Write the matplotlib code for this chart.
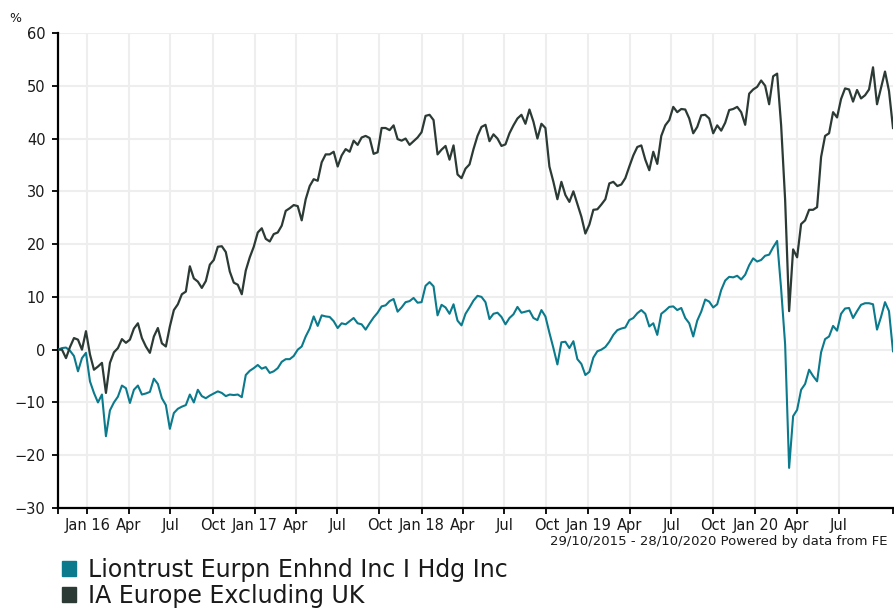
#!/usr/bin/env python3
"""
Performance cumulée du fonds Liontrust face au secteur IA Europe Excluding UK
(29/10/2015 - 28/10/2020), valeurs relevées à la main sur le graphique FE.
"""

import pandas as pd
import matplotlib
matplotlib.use("Agg")
import matplotlib.pyplot as plt
import matplotlib.dates as mdates
from matplotlib.patches import Patch

# Période et échantillonnage (points régulièrement espacés dans le temps)
debut = "2015-10-29"
fin = "2020-10-28"
nb_points = 210

fonds_label = "Liontrust Eurpn Enhnd Inc I Hdg Inc"
secteur_label = "IA Europe Excluding UK"
source_label = "29/10/2015 - 28/10/2020 Powered by data from FE"

# Performance du fonds (%)
fonds_perf = [
    0.0, 0.3, 0.4, -0.2, -1.2, -4.1, -1.6, -0.6, -6.0, -8.2, -10.0, -8.5,
    -16.4, -11.5, -10.0, -8.9, -6.8, -7.3, -10.1, -7.6, -6.8, -8.5, -8.3, -8.0,
    -5.5, -6.5, -9.2, -10.5, -15.0, -12.0, -11.2, -10.8, -10.5, -8.5, -10.0, -7.6,
    -8.8, -9.2, -8.7, -8.3, -7.9, -8.2, -8.8, -8.5, -8.6, -8.5, -9.0, -4.8,
    -4.0, -3.5, -2.9, -3.6, -3.3, -4.4, -4.1, -3.5, -2.3, -1.8, -1.8, -1.2,
    0.0, 0.6, 2.5, 4.0, 6.3, 4.5, 6.5, 6.3, 6.2, 5.4, 4.1,
    5.0, 4.8, 5.4, 6.0, 5.0, 4.8, 3.8, 5.0, 6.1, 7.0, 8.2, 8.4,
    9.2, 9.6, 7.2, 8.0, 9.0, 9.2, 9.8, 8.9, 9.0, 12.1, 12.8, 12.0,
    6.5, 8.5, 8.0, 6.8, 8.6, 5.5, 4.6, 6.8, 8.0, 9.3, 10.2,
    10.0, 9.0, 5.8, 6.8, 7.0, 6.2, 4.8, 6.0, 6.7, 8.1, 7.0, 7.2,
    7.4, 6.0, 5.6, 7.5, 6.3, 3.2, 0.3, -2.8, 1.4, 1.5, 0.3, 1.6,
    -1.8, -2.7, -4.8, -4.2, -1.5, -0.3, 0.0, 0.5, 1.5, 2.8, 3.7,
    4.0, 4.2, 5.6, 6.0, 6.9, 7.5, 6.8, 4.4, 5.0, 2.8, 6.8, 7.4,
    8.1, 8.2, 7.5, 7.9, 6.0, 5.0, 2.5, 5.5, 7.2, 9.5, 9.1, 8.0,
    8.6, 11.3, 13.1, 13.8, 13.7, 14.0, 13.3, 14.2, 16.0, 17.3, 16.7,
    17.0, 17.8, 18.0, 19.4, 20.6, 11.5, 1.0, -22.4, -12.6, -11.4, -7.6, -6.5,
    -3.8, -5.0, -6.0, -0.5, 2.0, 2.5, 4.5, 3.6, 6.8, 7.8, 7.9, 6.0,
    7.3, 8.5, 8.8, 8.8, 8.6, 3.8, 6.2, 9.0, 7.3, -0.3,
]

# Performance du secteur (%)
secteur_perf = [
    0.0, 0.0, -1.6, 0.5, 2.2, 1.9, 0.0, 3.5, -0.9, -3.8, -3.2, -2.5,
    -8.2, -2.5, -0.5, 0.3, 2.0, 1.3, 1.9, 4.0, 5.0, 2.2, 0.6, -0.6,
    2.5, 4.1, 1.2, 0.6, 4.4, 7.5, 8.6, 10.5, 11.0, 15.8, 13.5, 12.9,
    11.7, 13.0, 16.1, 17.0, 19.5, 19.6, 18.5, 14.8, 12.7, 12.3, 10.5, 15.0,
    17.5, 19.5, 22.2, 23.0, 21.0, 20.5, 21.9, 22.2, 23.5, 26.3, 26.8, 27.4,
    27.2, 24.5, 28.5, 31.0, 32.3, 32.0, 35.5, 37.0, 37.0, 37.5, 34.7,
    36.8, 38.0, 37.5, 39.6, 38.8, 40.2, 40.5, 40.1, 37.1, 37.4, 42.0, 42.0,
    41.6, 42.5, 39.9, 39.6, 40.0, 38.8, 39.5, 40.2, 41.2, 44.3, 44.5, 43.5,
    37.0, 37.9, 38.6, 36.0, 38.7, 33.2, 32.5, 34.3, 35.1, 38.0, 40.5,
    42.2, 42.6, 39.5, 40.8, 40.0, 38.6, 38.9, 41.0, 42.5, 43.8, 44.5, 42.8,
    45.5, 43.2, 40.0, 42.8, 42.0, 34.7, 31.8, 28.5, 31.8, 29.3, 28.0, 30.0,
    27.6, 25.2, 22.0, 23.7, 26.5, 26.6, 27.5, 28.5, 31.5, 31.8, 31.0,
    31.3, 32.5, 34.7, 36.8, 38.4, 38.7, 36.0, 34.0, 37.5, 35.2, 40.5, 42.5,
    43.5, 46.0, 45.0, 45.6, 45.5, 43.8, 41.0, 42.2, 44.4, 44.5, 43.8, 41.0,
    42.5, 41.5, 43.0, 45.4, 45.6, 46.0, 45.0, 42.6, 48.5, 49.3, 49.8,
    51.0, 50.0, 46.5, 51.8, 52.3, 42.5, 28.4, 7.3, 19.0, 17.5, 23.8, 24.5,
    26.5, 26.5, 27.0, 36.5, 40.5, 41.0, 45.0, 44.0, 47.5, 49.5, 49.3, 47.0,
    49.2, 47.6, 48.2, 49.3, 53.5, 46.5, 49.6, 52.7, 49.0, 42.0,
]

y_ticks = [-30, -20, -10, 0, 10, 20, 30, 40, 50, 60]
# Graduations trimestrielles (pas d'étiquette pour oct. 2020)
x_ticks = pd.date_range("2016-01-01", "2020-07-01", freq="QS")

couleur_fonds = "#0a7a8c"
couleur_secteur = "#2c3a36"


def label_trimestre(x, pos=None):
    """Jan + année sur deux chiffres, sinon juste le mois."""
    d = mdates.num2date(x)
    if d.month == 1:
        return d.strftime("Jan %y")
    return d.strftime("%b")


def tracer():
    dates = pd.date_range(debut, fin, periods=nb_points)

    fig = plt.figure(figsize=(8.94, 6.08), dpi=100)
    ax = fig.add_axes([58 / 894, 100 / 608, 835 / 894, 475 / 608])

    ax.plot(dates, fonds_perf, color=couleur_fonds, lw=1.5, zorder=3)
    ax.plot(dates, secteur_perf, color=couleur_secteur, lw=1.6, zorder=4)

    t0, t1 = pd.Timestamp(debut), pd.Timestamp(fin)
    ax.set_xlim(t0, t1)
    ax.set_ylim(-30, 60)
    ax.set_yticks(y_ticks)

    # Axes
    for side in ["top", "right"]:
        ax.spines[side].set_visible(False)
    for side in ["left", "bottom"]:
        ax.spines[side].set_color("black")
        ax.spines[side].set_linewidth(1.6)

    ax.set_xticks(mdates.date2num(x_ticks))
    ax.xaxis.set_major_formatter(plt.FuncFormatter(label_trimestre))
    ax.set_xticks(mdates.date2num([t0, t1]), minor=True)
    ax.tick_params(axis="both", which="both", colors="black", labelcolor="#1a1a1a",
                   width=1.3, length=4, labelsize=10.5)
    ax.tick_params(axis="x", which="major", pad=3)
    ax.tick_params(axis="y", pad=5)

    ax.grid(True, which="major", color="#eeeeee", lw=1.5)
    ax.set_axisbelow(True)

    # Textes annexes
    fig.text(15 / 894, 1 - 18 / 608, "%", fontsize=9, ha="center", va="center",
             color="#1a1a1a")
    fig.text(888 / 894, 1 - 542 / 608, source_label, fontsize=9.5, ha="right",
             va="center", color="#1a1a1a")

    # Légende
    handles = [Patch(color=couleur_fonds, label=fonds_label),
               Patch(color=couleur_secteur, label=secteur_label)]
    fig.legend(handles=handles, loc="upper left",
               bbox_to_anchor=(62 / 894, 1 - 558 / 608), frameon=False,
               fontsize=17, handlelength=0.6, handleheight=0.6,
               handletextpad=0.5, labelspacing=0.08, borderpad=0,
               borderaxespad=0, labelcolor="#1a1a1a")

    fig.savefig("out.png", dpi=100)


if __name__ == "__main__":
    tracer()
